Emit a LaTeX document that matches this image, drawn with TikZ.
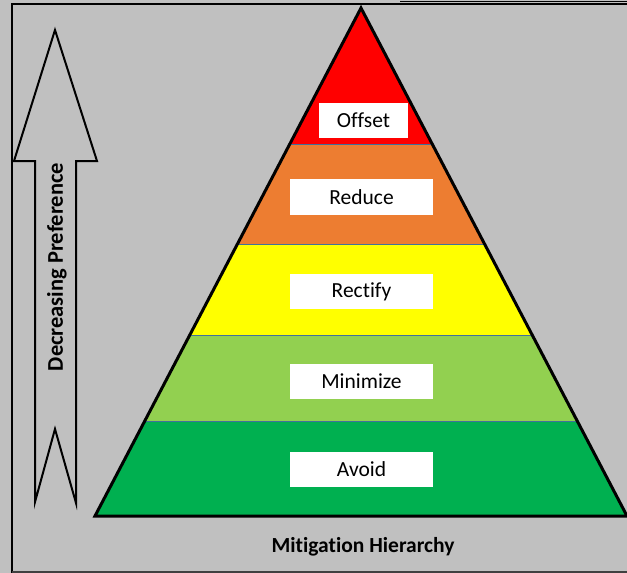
\documentclass[tikz,border=0pt]{standalone}
\usepackage{fontspec}
\setmainfont[Ligatures=CommonOff]{Carlito}
\definecolor{bg}{HTML}{C0C0C0}
\definecolor{lred}{HTML}{FF0000}
\definecolor{lorange}{HTML}{ED7D31}
\definecolor{lyellow}{HTML}{FFFF00}
\definecolor{llime}{HTML}{92D050}
\definecolor{lgreen}{HTML}{00B050}
\definecolor{sep}{HTML}{41719C}
\definecolor{frame}{HTML}{404040}
\tikzset{
  labelbox/.style={fill=white, inner sep=0pt, minimum width=143pt, minimum height=35pt, font=\fontsize{21.5}{25}\selectfont},
  sepline/.style={draw=sep, line width=0.9pt},
  titletext/.style={font=\bfseries\fontsize{21.5}{25}\selectfont}
}
\begin{document}
\begin{tikzpicture}[x=1pt,y=-1pt]
\useasboundingbox (0,0) rectangle (627,573);
\fill[bg] (0,0) rectangle (627,573);
% frame lines
\draw[line width=1.5pt] (12,573) -- (12,4) -- (627,4);
\draw[line width=1pt] (400,1.2) -- (627,1.2);
\draw[frame, line width=1.5pt] (12,572) -- (627,572);
% pyramid layers
\begin{scope}
\clip (361,8) -- (627,516) -- (95,516) -- cycle;
\fill[lred] (0,0) rectangle (627,144);
\fill[lorange] (0,144) rectangle (627,244);
\fill[lyellow] (0,244) rectangle (627,335);
\fill[llime] (0,335) rectangle (627,421);
\fill[lgreen] (0,421) rectangle (627,520);
\draw[sepline] (0,144) -- (627,144);
\draw[sepline] (0,244) -- (627,244);
\draw[sepline] (0,335) -- (627,335);
\draw[sepline] (0,421) -- (627,421);
\end{scope}
\draw[line width=3pt, line join=miter] (361,8) -- (627,516) -- (95,516) -- cycle;
% labels
\node[labelbox, minimum width=89pt] (offset) at (363.5,120.5) {Offset};
\node[labelbox, minimum height=36pt] (reduce) at (361.5,197) {Reduce};
\node[labelbox] (rectify) at (361.5,291.5) {Rectify};
\node[labelbox] (minimize) at (361.5,381.5) {Minimize};
\node[labelbox] (avoid) at (361.5,469.5) {Avoid};
% arrow
\draw[line width=2pt, line join=miter] (55,30) -- (97,161) -- (76,161) -- (76,503) -- (55,429) -- (35,502) -- (35,161) -- (14,161) -- cycle;
\node[titletext, font=\bfseries\fontsize{22.5}{26}\selectfont, rotate=90] (pref) at (57,267) {Decreasing Preference};
\node[titletext] (title) at (363,547) {Mitigation Hierarchy};
\end{tikzpicture}
\end{document}
